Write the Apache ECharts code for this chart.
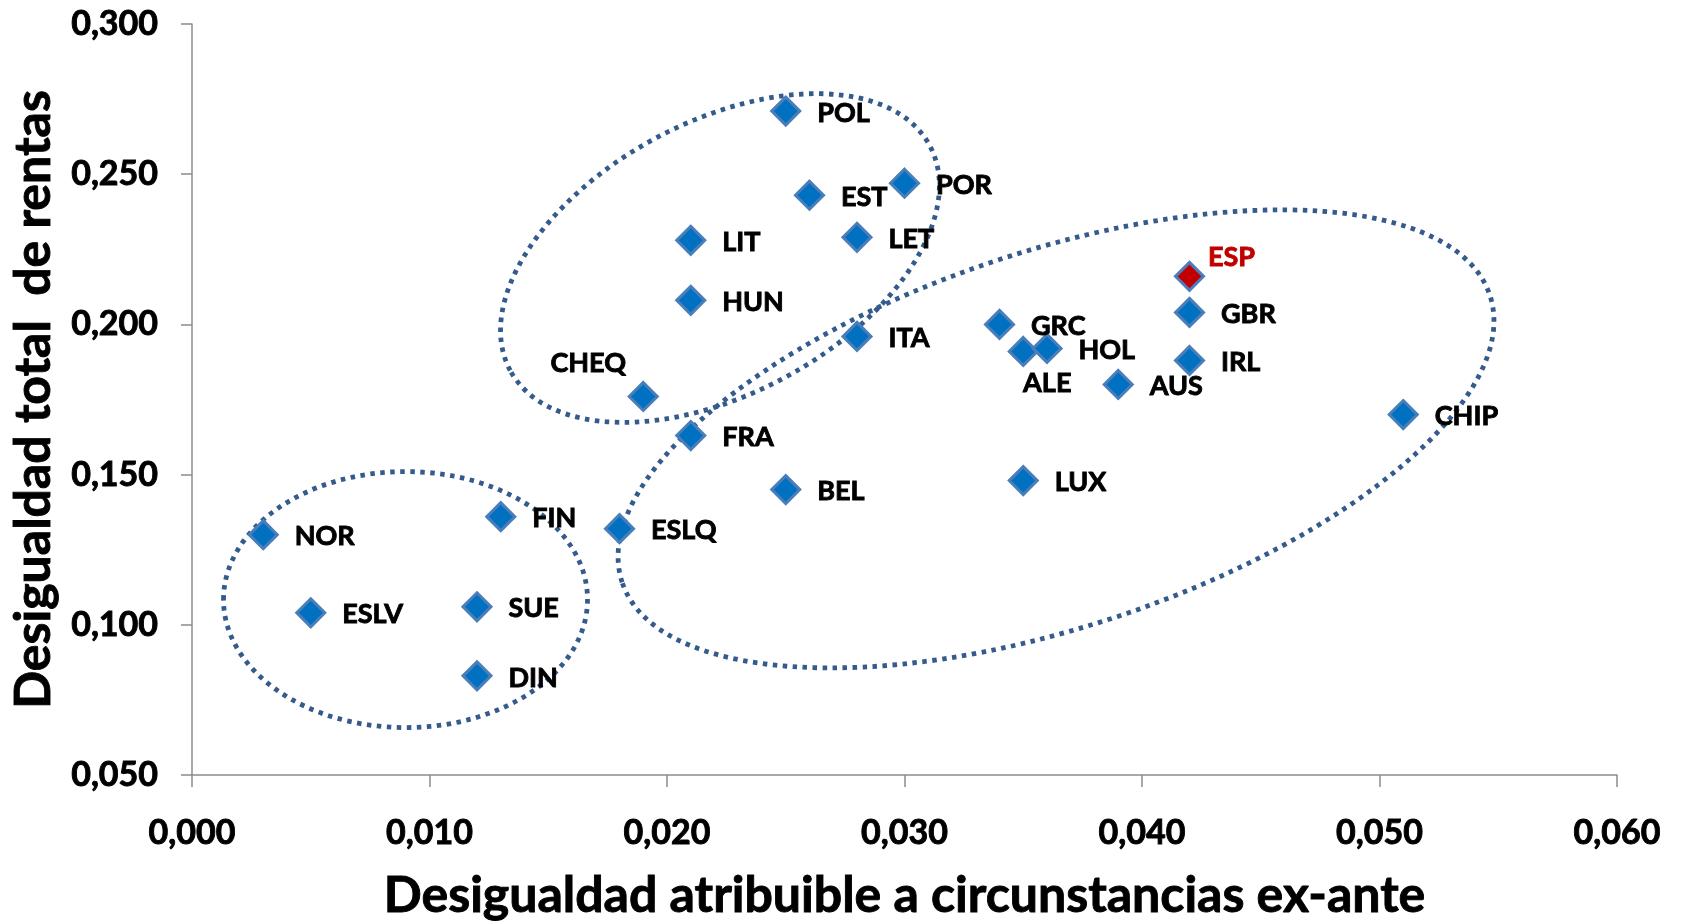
<!DOCTYPE html>
<html>
<head>
<meta charset="utf-8">
<style>
  html, body { margin: 0; padding: 0; background: #fff; }
  #myChart { width: 1682px; height: 923px; }
</style>
<script src="https://cdn.jsdelivr.net/npm/echarts@6/dist/echarts.min.js"></script>
</head>
<body>
<div id="myChart"></div>
<script>
// datos: países, desigualdad ex-ante (x) y desigualdad total (y)
const countries = ['POL', 'EST', 'POR', 'LIT', 'LET', 'HUN', 'ITA', 'CHEQ', 'FRA', 'BEL', 'ESLQ',
  'NOR', 'FIN', 'ESLV', 'SUE', 'DIN', 'ESP', 'GBR', 'IRL', 'GRC', 'ALE', 'HOL', 'AUS', 'LUX', 'CHIP']
const exAnte = [0.025, 0.026, 0.030, 0.021, 0.028, 0.021, 0.028, 0.019, 0.021, 0.025, 0.018,
  0.003, 0.013, 0.005, 0.012, 0.012, 0.042, 0.042, 0.042, 0.034, 0.035, 0.036, 0.039, 0.035, 0.051]
const total = [0.271, 0.243, 0.247, 0.228, 0.229, 0.208, 0.196, 0.176, 0.163, 0.145, 0.132,
  0.130, 0.136, 0.104, 0.106, 0.083, 0.216, 0.204, 0.188, 0.200, 0.191, 0.192, 0.180, 0.148, 0.170]
const highlight = 'ESP'

// elipses dibujadas a mano sobre el gráfico (centro en datos, radios en px, giro en grados)
const groups = [
  { center: [0.02223, 0.2221], rx: 238, ry: 136, angle: 28.2 },
  { center: [0.00899, 0.1084], rx: 182, ry: 128, angle: 0 },
  { center: [0.03638, 0.1619], rx: 457, ry: 188, angle: 18.3 }
]

const fmt = v => v.toFixed(3).replace('.', ',')

// texto en negrita "gruesa" tipo Calibri
const bold = (size, color) => ({
  fontSize: size,
  fontWeight: 'bold',
  fontFamily: 'Lato',
  color: color,
  textBorderColor: color,
  textBorderWidth: 0.9
})

let myChart = echarts.init(document.getElementById('myChart'))

const points = countries.map((name, i) => {
  let item = { name: name, value: [exAnte[i], total[i]] }
  if (name === 'CHEQ') {
    item.label = { position: 'top', distance: 4, offset: [-55, 0] }
  } else if (name === 'ALE') {
    item.label = { position: 'bottom', distance: 3, offset: [24, 0] }
  } else if (name === highlight) {
    item.itemStyle = { color: '#C00000' }
    item.label = { distance: 5, offset: [-2, -19], color: '#C00000', textBorderColor: '#C00000' }
  }
  return item
})

myChart.setOption({
  animation: false,
  textStyle: { fontFamily: 'Lato' },
  grid: { left: 192, right: 65, top: 24, bottom: 148, containLabel: false, outerBoundsMode: 'none' },
  xAxis: {
    type: 'value',
    min: 0,
    max: 0.06,
    interval: 0.01,
    name: 'Desigualdad atribuible a circunstancias ex-ante',
    nameLocation: 'middle',
    nameGap: 96,
    nameTextStyle: bold(50, '#000'),
    axisLine: { onZero: false, lineStyle: { color: '#8c8c8c', width: 1.5 } },
    axisTick: { show: true, length: 12, lineStyle: { color: '#8c8c8c', width: 1.5 } },
    splitLine: { show: false },
    axisLabel: Object.assign(bold(34, '#000'), { formatter: fmt, margin: 41 })
  },
  yAxis: {
    type: 'value',
    min: 0.05,
    max: 0.3,
    interval: 0.05,
    name: 'Desigualdad total  de rentas',
    nameLocation: 'middle',
    nameGap: 131,
    nameTextStyle: bold(50, '#000'),
    axisLine: { show: true, onZero: false, lineStyle: { color: '#8c8c8c', width: 1.5 } },
    axisTick: { show: true, length: 11, lineStyle: { color: '#8c8c8c', width: 1.5 } },
    splitLine: { show: false },
    axisLabel: Object.assign(bold(34, '#000'), { formatter: fmt, margin: 34 })
  },
  series: [
    {
      type: 'scatter',
      symbol: 'diamond',
      symbolSize: 28,
      itemStyle: { color: '#0070C0', borderColor: '#4A7EBB', borderWidth: 3, opacity: 1 },
      label: Object.assign(bold(27, '#000'), {
        show: true,
        position: 'right',
        distance: 16,
        offset: [0, 2],
        formatter: '{b}'
      }),
      z: 3,
      data: points
    }
  ]
})

// elipses punteadas
myChart.setOption({
  graphic: groups.map(g => {
    let p = myChart.convertToPixel({ gridIndex: 0 }, g.center)
    return {
      type: 'ellipse',
      x: p[0],
      y: p[1],
      rotation: g.angle * Math.PI / 180,
      shape: { cx: 0, cy: 0, rx: g.rx, ry: g.ry },
      style: { fill: 'none', stroke: '#345B8C', lineWidth: 4.8, lineDash: [4.5, 5.5] },
      z: 2,
      silent: true
    }
  })
})
</script>
</body>
</html>
